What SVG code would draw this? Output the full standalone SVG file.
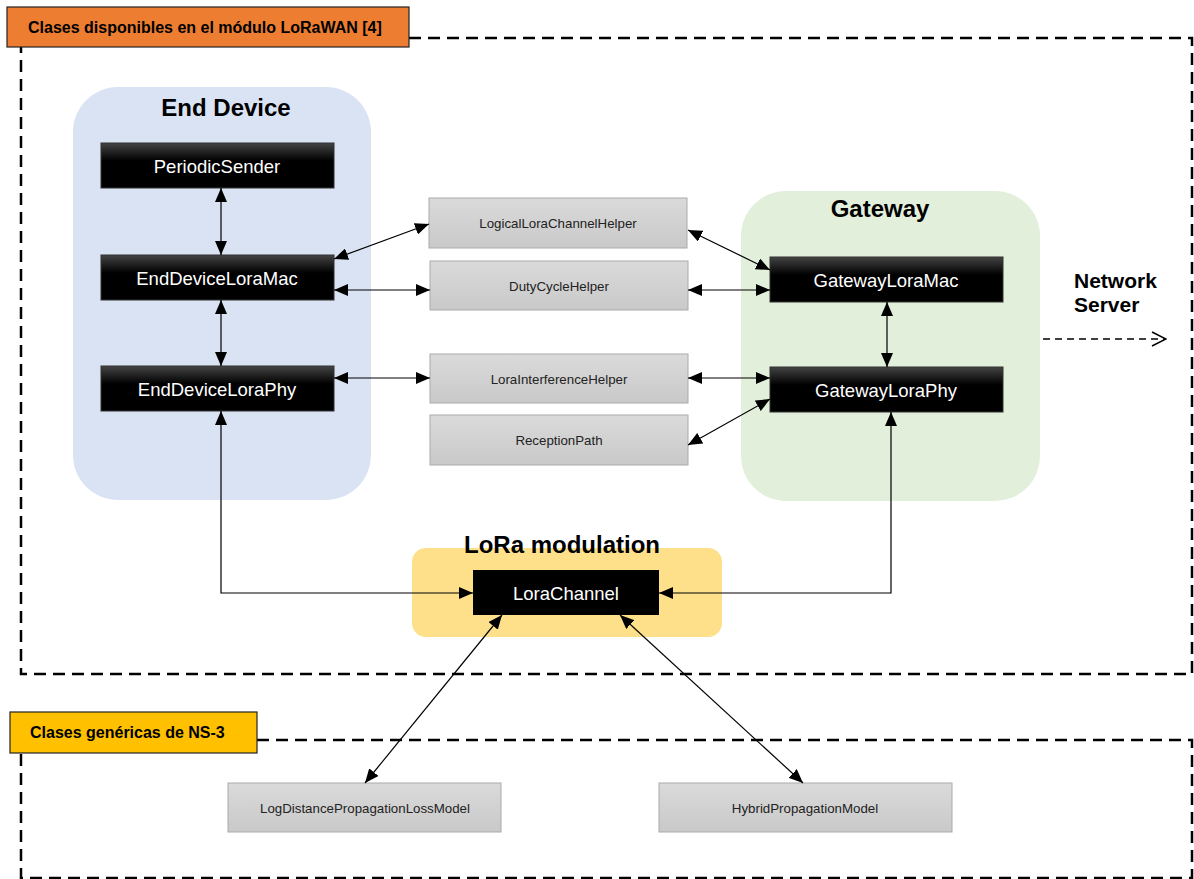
<svg xmlns="http://www.w3.org/2000/svg" width="1194" height="879" viewBox="0 0 1194 879">
  <defs>
    <linearGradient id="gBlack" x1="0" y1="0" x2="0" y2="1">
      <stop offset="0" stop-color="#444"/>
      <stop offset="0.4" stop-color="#000"/>
      <stop offset="1" stop-color="#000"/>
    </linearGradient>
    <linearGradient id="gGray" x1="0" y1="0" x2="0" y2="1">
      <stop offset="0" stop-color="#dadada"/>
      <stop offset="1" stop-color="#c9c9c9"/>
    </linearGradient>
    <marker id="ah" viewBox="0 0 14 12" refX="14" refY="6" markerWidth="14" markerHeight="12" markerUnits="userSpaceOnUse" orient="auto-start-reverse">
      <path d="M0,0 L14,6 L0,12 Z" fill="#000"/>
    </marker>
    <marker id="open" viewBox="0 0 16 16" refX="15" refY="8" markerWidth="16" markerHeight="16" markerUnits="userSpaceOnUse" orient="auto">
      <path d="M1,1 L15,8 L1,15" fill="none" stroke="#000" stroke-width="1.5"/>
    </marker>
  </defs>
  <style>
    .frame { fill: none; stroke: #000; stroke-width: 2.5; stroke-dasharray: 12 7; }
    .blk { fill: url(#gBlack); stroke: #333; stroke-width: 1; }
    .gry { fill: url(#gGray); stroke: #aaa; stroke-width: 1; }
    .bt { font-family: "Liberation Sans", Arial, sans-serif; font-size: 18.5px; fill: #fff; text-anchor: middle; }
    .gt { font-family: "Liberation Sans", Arial, sans-serif; font-size: 13.3px; fill: #222; text-anchor: middle; }
    .title { font-family: "Liberation Sans", Arial, sans-serif; font-size: 24px; font-weight: bold; fill: #000; text-anchor: middle; }
    .tag { font-family: "Liberation Sans", Arial, sans-serif; font-size: 16px; font-weight: bold; fill: #000; }
    .c { fill: none; stroke: #000; stroke-width: 1.2; marker-start: url(#ah); marker-end: url(#ah); }
  </style>
  <rect width="1194" height="879" fill="#fff"/>

  <!-- LoRaWAN module frame -->
  <g id="lorawan-frame">
    <path class="frame" d="M409,38 H1192 V674 H21 V47"/>
    <rect x="7" y="7" width="402" height="40" fill="#ED7D31" stroke="#222" stroke-width="1.2"/>
    <text class="tag" x="28" y="33">Clases disponibles en el módulo LoRaWAN [4]</text>
  </g>

  <!-- NS-3 generic classes frame -->
  <g id="ns3-frame">
    <path class="frame" d="M257,740 H1192 V878 H21 V753"/>
    <rect x="10" y="712" width="247" height="41" fill="#FFC000" stroke="#222" stroke-width="1.2"/>
    <text class="tag" x="30" y="738">Clases genéricas de NS-3</text>
  </g>

  <!-- Containers -->
  <g id="end-device">
    <rect x="73" y="87" width="298" height="413" rx="45" fill="#DAE3F3"/>
    <text class="title" x="226" y="116">End Device</text>
  </g>
  <g id="gateway">
    <rect x="741" y="191" width="299" height="310" rx="45" fill="#E2EFDA"/>
    <text class="title" x="880" y="217">Gateway</text>
  </g>
  <g id="lora-modulation">
    <rect x="412" y="548" width="310" height="89" rx="14" fill="#FFE08A"/>
    <text class="title" x="562" y="553">LoRa modulation</text>
  </g>

  <!-- Black class nodes -->
  <g id="periodic-sender">
    <rect class="blk" x="101" y="143" width="233" height="45"/>
    <text class="bt" x="217" y="173">PeriodicSender</text>
  </g>
  <g id="end-device-lora-mac">
    <rect class="blk" x="101" y="255" width="233" height="45"/>
    <text class="bt" x="217" y="285">EndDeviceLoraMac</text>
  </g>
  <g id="end-device-lora-phy">
    <rect class="blk" x="101" y="366" width="233" height="45"/>
    <text class="bt" x="217" y="396">EndDeviceLoraPhy</text>
  </g>
  <g id="gateway-lora-mac">
    <rect class="blk" x="770" y="257" width="233" height="45"/>
    <text class="bt" x="886" y="287">GatewayLoraMac</text>
  </g>
  <g id="gateway-lora-phy">
    <rect class="blk" x="770" y="367" width="233" height="45"/>
    <text class="bt" x="886" y="397">GatewayLoraPhy</text>
  </g>
  <g id="lora-channel">
    <rect x="473" y="570" width="186" height="45" fill="#000"/>
    <text class="bt" x="566" y="600">LoraChannel</text>
  </g>

  <!-- Gray helper nodes -->
  <g id="logical-lora-channel-helper">
    <rect class="gry" x="429" y="198" width="258" height="50"/>
    <text class="gt" x="558" y="228">LogicalLoraChannelHelper</text>
  </g>
  <g id="duty-cycle-helper">
    <rect class="gry" x="430" y="261" width="258" height="49"/>
    <text class="gt" x="559" y="291">DutyCycleHelper</text>
  </g>
  <g id="lora-interference-helper">
    <rect class="gry" x="430" y="354" width="258" height="49"/>
    <text class="gt" x="559" y="384">LoraInterferenceHelper</text>
  </g>
  <g id="reception-path">
    <rect class="gry" x="430" y="415" width="258" height="50"/>
    <text class="gt" x="559" y="445">ReceptionPath</text>
  </g>
  <g id="log-distance-model">
    <rect class="gry" x="228" y="783" width="273" height="49"/>
    <text class="gt" x="365" y="813">LogDistancePropagationLossModel</text>
  </g>
  <g id="hybrid-model">
    <rect class="gry" x="659" y="783" width="293" height="49"/>
    <text class="gt" x="805" y="813">HybridPropagationModel</text>
  </g>

  <!-- Network server label -->
  <g id="network-server">
    <text font-family="Liberation Sans, Arial, sans-serif" font-size="21" font-weight="bold" fill="#000">
      <tspan x="1074" y="288">Network</tspan>
      <tspan x="1074" y="312">Server</tspan>
    </text>
  </g>

  <!-- Connectors -->
  <g id="connectors">
    <line class="c" x1="221" y1="188" x2="221" y2="255"/>
    <line class="c" x1="221" y1="300" x2="221" y2="366"/>
    <line class="c" x1="334" y1="259" x2="429" y2="224"/>
    <line class="c" x1="334" y1="290" x2="430" y2="290"/>
    <line class="c" x1="688" y1="230" x2="770" y2="270"/>
    <line class="c" x1="688" y1="290" x2="770" y2="290"/>
    <line class="c" x1="887" y1="302" x2="887" y2="367"/>
    <line class="c" x1="334" y1="378" x2="430" y2="378"/>
    <line class="c" x1="688" y1="378" x2="770" y2="378"/>
    <line class="c" x1="688" y1="445" x2="770" y2="399"/>
    <path class="c" d="M221,411 V593 H473"/>
    <path class="c" d="M891,412 V593 H659"/>
    <line class="c" x1="502" y1="615" x2="365" y2="783"/>
    <line class="c" x1="620" y1="615" x2="803" y2="783"/>
    <line x1="1043" y1="339" x2="1166" y2="339" stroke="#000" stroke-width="1.5" stroke-dasharray="7 5" marker-end="url(#open)"/>
  </g>
</svg>
